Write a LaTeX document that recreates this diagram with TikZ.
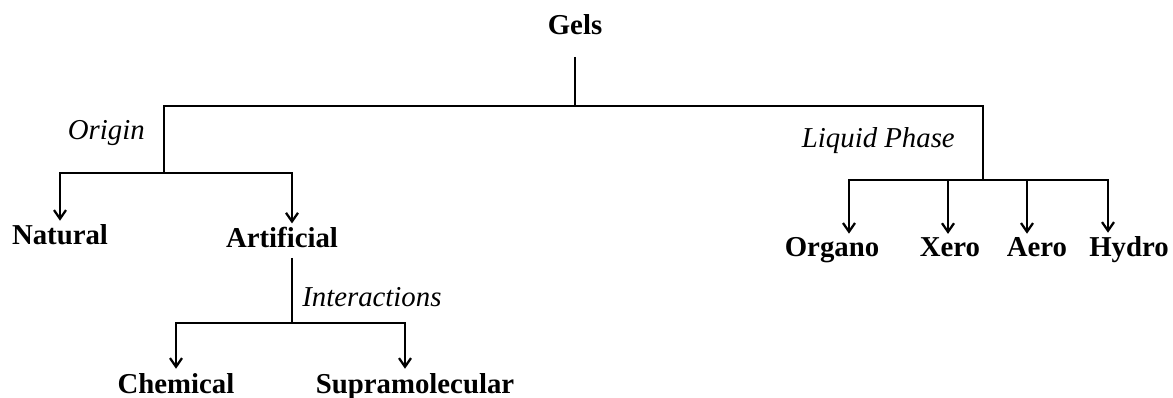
\documentclass[tikz,border=0pt]{standalone}
\usepackage{fontspec}
\setmainfont{Liberation Serif}
\usetikzlibrary{arrows.meta}

\begin{document}
\begin{tikzpicture}[
    x=0.75pt,
    y=-0.75pt,
    font=\fontsize{21.6pt}{26pt}\selectfont,
    class/.style={
        inner sep=3pt,
        anchor=base,
        font=\fontsize{21.6pt}{26pt}\selectfont\bfseries
    },
    criterion/.style={
        inner sep=0pt,
        font=\fontsize{21.6pt}{26pt}\selectfont\itshape
    },
    line/.style={line width=1.9pt},
    arrow/.style={line width=1.9pt, -{Straight Barb[length=6.5pt,width=9pt,line width=1.7pt]}}
]
\useasboundingbox (0,0) rectangle (1173,398);

% Nodes
\node[class] (gels) at (575,35) {Gels};

\node[class] (natural) at (60,245) {Natural};
\node[class] (artificial) at (282,248) {Artificial};

\node[class] (chemical) at (176,393) {Chemical};
\node[class] (supra) at (415,393) {Supramolecular};

\node[class] (organo) at (832,257) {Organo};
\node[class] (xero) at (950,257) {Xero};
\node[class] (aero) at (1037,257) {Aero};
\node[class] (hydro) at (1129,257) {Hydro};

\node[criterion, anchor=base east] (origin) at (145,140) {Origin};
\node[criterion, anchor=base east] (liquid) at (955,148) {Liquid Phase};
\node[criterion, anchor=base west] (interact) at (302,307) {Interactions};

% Junctions
\coordinate (root) at (575,106);
\coordinate (ojun) at (164,173);
\coordinate (ljun) at (983,180);
\coordinate (ijun) at (292,323);

% Arrows
\draw[line] ([yshift=-13pt]gels.south) -- (root);
\draw[line] (ojun) |- (root) -| (ljun);

\draw[arrow] (ojun) -| (natural.north);
\draw[arrow] (ojun) -| ([xshift=7.5pt]artificial.north);

\draw[line] ([xshift=7.5pt,yshift=-4pt]artificial.south) -- (ijun);
\draw[arrow] (ijun) -| (chemical.north);
\draw[arrow] (ijun) -| ([xshift=-7.5pt]supra.north);

\draw[arrow] (ljun) -| ([xshift=12.75pt]organo.north);
\draw[arrow] (ljun) -| ([xshift=-1.5pt]xero.north);
\draw[arrow] (ljun) -| ([xshift=-7.5pt]aero.north);
\draw[arrow] (ljun) -| ([xshift=-15.75pt]hydro.north);

\end{tikzpicture}
\end{document}
